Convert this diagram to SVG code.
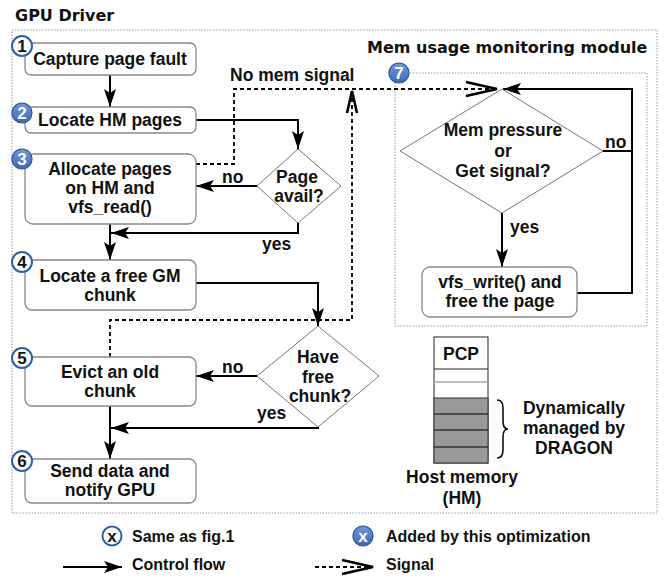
<svg xmlns="http://www.w3.org/2000/svg" width="667" height="580" viewBox="0 0 667 580">
<defs>
<style>
text{font-family:"Liberation Sans",Arial,sans-serif;font-weight:bold;font-size:17.5px;fill:#111}
.t{font-family:"DejaVu Sans","Liberation Sans",sans-serif;font-size:16px}
.c{text-anchor:middle}
.lg{font-size:16px}
.box{fill:#fff;stroke:#888;stroke-width:1.3}
.dia{fill:#fff;stroke:#777;stroke-width:1}
.flow{fill:none;stroke:#000;stroke-width:2;marker-end:url(#arr)}
.plain{fill:none;stroke:#000;stroke-width:2}
.sig{fill:none;stroke:#000;stroke-width:1.8;stroke-dasharray:4 3}
.chev{fill:none;stroke:#000;stroke-width:2.6;stroke-linejoin:miter}
.frame{fill:none;stroke:#999;stroke-width:1;stroke-dasharray:1.5 1.5}
.bo{fill:#fff;stroke:#2e5fa8;stroke-width:2}
.bf{fill:url(#bg);stroke:#2f5597;stroke-width:1.2}
.bn{font-size:17px}
.bw{font-size:17px;fill:#fff}
</style>
<linearGradient id="bg" x1="0" y1="0" x2="0" y2="1">
<stop offset="0" stop-color="#6f97d8"/>
<stop offset="1" stop-color="#3d68b4"/>
</linearGradient>
<marker id="arr" viewBox="0 0 18 12" refX="18" refY="6" markerWidth="18" markerHeight="12" orient="auto" markerUnits="userSpaceOnUse">
<path d="M0,0 L18,6 L0,12 L4,6 z" fill="#000"/>
</marker>
</defs>
<rect width="667" height="580" fill="#fff"/>

<g id="frames">
<rect class="frame" x="12" y="30" width="645" height="483"/>
<text class="t" x="15" y="21" font-size="16.5">GPU Driver</text>
<rect class="frame" x="395" y="73" width="252" height="253" stroke="#aaa"/>
<text class="t" x="367" y="53">Mem usage monitoring module</text>
</g>

<g id="connectors">
<path class="flow" d="M110,75 V107"/>
<path class="flow" d="M196,120 H298 V149"/>
<path class="flow" d="M257,186 H196"/>
<path class="flow" d="M298,223 V233 H111"/>
<path class="flow" d="M110,224 V260"/>
<path class="flow" d="M196,283 H318 V326"/>
<path class="flow" d="M257,376 H196"/>
<path class="flow" d="M318,427 V428 H111"/>
<path class="flow" d="M110,406 V459"/>
<path class="flow" d="M502,213 V267"/>
<path class="flow" d="M603,151 H632 V89 H503"/>
<path class="plain" d="M577,293 H632 V150"/>
<path class="sig" d="M196,164 H234 V89 H495"/>
<path class="chev" d="M466,82 L497,89 L466,96"/>
<path class="sig" d="M110,357 V320 H352 V96"/>
<path class="chev" d="M347,113 L352,91 L357,113"/>
<text x="222" y="183">no</text>
<text x="262" y="250">yes</text>
<text x="222" y="373">no</text>
<text x="257" y="419">yes</text>
<text x="605" y="148">no</text>
<text x="510" y="233">yes</text>
<text x="230" y="81">No mem signal</text>
</g>

<g id="n1">
<rect class="box" x="25" y="43" width="171" height="32" rx="6"/>
<text class="c" x="110" y="65">Capture page fault</text>
<circle class="bo" cx="22" cy="46" r="10"/>
<text class="c bn" x="22" y="52">1</text>
</g>
<g id="n2">
<rect class="box" x="25" y="107" width="171" height="26" rx="6"/>
<text class="c" x="110" y="126">Locate HM pages</text>
<circle class="bf" cx="22" cy="113" r="10"/>
<text class="c bw" x="22" y="119">2</text>
</g>
<g id="n3">
<rect class="box" x="25" y="154" width="171" height="70" rx="8"/>
<text class="c" x="110" y="175">Allocate pages</text>
<text class="c" x="110" y="194">on HM and</text>
<text class="c" x="110" y="213">vfs_read()</text>
<circle class="bf" cx="22" cy="159" r="10"/>
<text class="c bw" x="22" y="165">3</text>
</g>
<g id="d1">
<polygon class="dia" points="298,149 341,186 298,223 257,186"/>
<text class="c" x="297" y="183">Page</text>
<text class="c" x="299" y="202">avail?</text>
</g>
<g id="n4">
<rect class="box" x="25" y="260" width="171" height="50" rx="7"/>
<text class="c" x="110" y="282">Locate a free GM</text>
<text class="c" x="110" y="301">chunk</text>
<circle class="bo" cx="22" cy="262" r="10"/>
<text class="c bn" x="22" y="268">4</text>
</g>
<g id="d2">
<polygon class="dia" points="318,326 379,376 318,427 257,376"/>
<text class="c" x="318" y="363">Have</text>
<text class="c" x="318" y="383">free</text>
<text class="c" x="320" y="402">chunk?</text>
</g>
<g id="n5">
<rect class="box" x="25" y="357" width="171" height="49" rx="7"/>
<text class="c" x="110" y="378">Evict an old</text>
<text class="c" x="110" y="397">chunk</text>
<circle class="bo" cx="22" cy="358" r="10"/>
<text class="c bn" x="22" y="364">5</text>
</g>
<g id="n6">
<rect class="box" x="25" y="459" width="171" height="44" rx="7"/>
<text class="c" x="110" y="477">Send data and</text>
<text class="c" x="110" y="496">notify GPU</text>
<circle class="bo" cx="22" cy="461" r="10"/>
<text class="c bn" x="22" y="467">6</text>
</g>
<g id="n7">
<circle class="bf" cx="399" cy="73" r="10"/>
<text class="c bw" x="399" y="79">7</text>
</g>
<g id="d3">
<polygon class="dia" points="502,89 603,151 502,213 400,151"/>
<text class="c" x="503" y="136">Mem pressure</text>
<text class="c" x="503" y="157">or</text>
<text class="c" x="503" y="177">Get signal?</text>
</g>
<g id="n8">
<rect class="box" x="422" y="267" width="155" height="50" rx="8"/>
<text class="c" x="500" y="288">vfs_write() and</text>
<text class="c" x="500" y="307">free the page</text>
</g>

<g id="hm">
<rect x="434" y="337" width="54" height="126" fill="#fff" stroke="#222" stroke-width="1"/>
<line x1="434" y1="369" x2="488" y2="369" stroke="#222" stroke-width="1"/>
<line x1="434" y1="382" x2="488" y2="382" stroke="#aaa" stroke-width="1.5"/>
<rect x="434" y="398" width="54" height="65" fill="#999" stroke="#333" stroke-width="1"/>
<line x1="434" y1="414" x2="488" y2="414" stroke="#333" stroke-width="1.5"/>
<line x1="434" y1="430" x2="488" y2="430" stroke="#333" stroke-width="1.5"/>
<line x1="434" y1="447" x2="488" y2="447" stroke="#333" stroke-width="1.5"/>
<text class="c" x="461" y="360">PCP</text>
<path d="M497,400 Q503,400 503,408 L503,421 Q503,429 508,429 Q503,429 503,437 L503,450 Q503,458 497,458" fill="none" stroke="#111" stroke-width="1.6"/>
<text class="c" x="574" y="414">Dynamically</text>
<text class="c" x="574" y="434">managed by</text>
<text class="c" x="574" y="454">DRAGON</text>
<text class="c" x="462" y="483">Host memory</text>
<text class="c" x="462" y="504">(HM)</text>
</g>

<g id="legend">
<circle class="bo" cx="112" cy="536" r="9.5"/>
<text class="c bn" x="112" y="542">x</text>
<text class="lg" x="132" y="542">Same as fig.1</text>
<circle class="bf" cx="363" cy="536" r="10"/>
<text class="c bw" x="363" y="542">x</text>
<text class="lg" x="386" y="542">Added by this optimization</text>
<path class="flow" d="M63,567 H122"/>
<text class="lg" x="132" y="570">Control flow</text>
<path class="sig" d="M315,567 H370"/>
<path class="chev" d="M342,560 L373,567 L342,574"/>
<text class="lg" x="386" y="570">Signal</text>
</g>
</svg>
